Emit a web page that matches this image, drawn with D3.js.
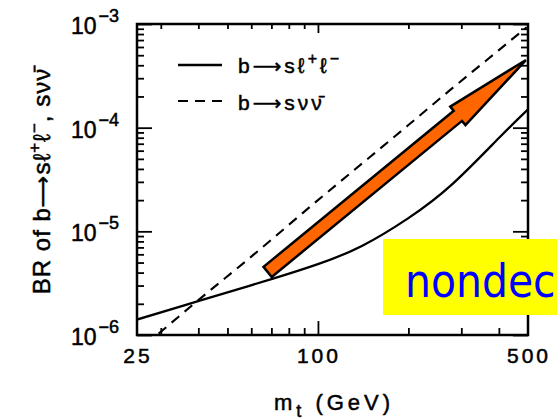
<!DOCTYPE html>
<html><head><meta charset="utf-8">
<script src="https://cdn.jsdelivr.net/npm/d3@7"></script>
<style>
  body { margin: 0; background: #fff; }
  svg { display: block; }
  .ink { fill: #000; stroke: #000; stroke-width: 0.5; }
</style>
</head><body>
<svg id="chart" width="557" height="420"></svg>
<script>
// Axis tick labels
const xTickValues = [25, 100, 500];
const xTickLabels = ["25", "100", "500"];
const yTickValues = [1e-6, 1e-5, 1e-4, 1e-3];
const yTickExponents = ["−6", "−5", "−4", "−3"];

// b → s l+ l−  (solid)
const mtLL = [25, 35, 50, 70, 100, 140, 200, 280, 400, 500];
const brLL = [1.41e-6, 1.89e-6, 2.58e-6, 3.46e-6, 4.83e-6, 7.22e-6, 1.34e-5, 2.85e-5, 7.94e-5, 1.50e-4];

// b → s nu nubar  (dashed)
const mtNuNu = [29.5, 40, 60, 100, 150, 200, 275, 400, 495];
const brNuNu = [1.03e-6, 2.17e-6, 5.7e-6, 2.0e-5, 5.3e-5, 1.06e-4, 2.3e-4, 5.6e-4, 9.3e-4];

// Trend arrow, from/to in (m_t, BR)
const arrowFrom = [68, 4.06e-6];
const arrowTo = [492, 4.49e-4];

const svg = d3.select("#chart");
const x0 = 137, x1 = 528, y0 = 24, y1 = 335;

const x = d3.scaleLog().domain([25, 500]).range([x0, x1]);
const y = d3.scaleLog().domain([1e-6, 1e-3]).range([y1, y0]);

const FONT = "'Liberation Sans', Arial, sans-serif";
const ARROW_FONT = "'DejaVu Sans', sans-serif";

// Clip for the curves
svg.append("clipPath").attr("id", "plot-clip")
  .append("rect").attr("x", x0).attr("y", y0).attr("width", x1 - x0).attr("height", y1 - y0);

// Minor tick positions
const yMinor = [];
for (let d = -6; d < -3; d++) for (let k = 2; k <= 9; k++) yMinor.push(k * Math.pow(10, d));
const xMinor = [30, 40, 50, 60, 70, 80, 90, 200, 300, 400];

function strip(g) {
  g.select(".domain").remove();
  g.selectAll("text").remove();
  g.selectAll("line").attr("stroke", "#000").attr("stroke-width", 1.8);
}

// Left axis ticks (inward)
svg.append("g").attr("transform", `translate(${x0},0)`)
  .call(d3.axisLeft(y).tickValues(yMinor).tickSize(-7).tickFormat("")).call(strip);
svg.append("g").attr("transform", `translate(${x0},0)`)
  .call(d3.axisLeft(y).tickValues(yTickValues).tickSize(-15).tickFormat("")).call(strip);
// Right axis ticks (inward)
svg.append("g").attr("transform", `translate(${x1},0)`)
  .call(d3.axisRight(y).tickValues(yMinor).tickSize(-7).tickFormat("")).call(strip);
svg.append("g").attr("transform", `translate(${x1},0)`)
  .call(d3.axisRight(y).tickValues(yTickValues).tickSize(-15).tickFormat("")).call(strip);
// Bottom axis ticks (inward)
svg.append("g").attr("transform", `translate(0,${y1})`)
  .call(d3.axisBottom(x).tickValues(xMinor).tickSize(-7).tickFormat("")).call(strip);
svg.append("g").attr("transform", `translate(0,${y1})`)
  .call(d3.axisBottom(x).tickValues([100]).tickSize(-14).tickFormat("")).call(strip);
// Top axis ticks (inward)
svg.append("g").attr("transform", `translate(0,${y0})`)
  .call(d3.axisTop(x).tickValues(xMinor).tickSize(-5).tickFormat("")).call(strip);
svg.append("g").attr("transform", `translate(0,${y0})`)
  .call(d3.axisTop(x).tickValues([100]).tickSize(-9).tickFormat("")).call(strip);

// Frame
svg.append("rect").attr("x", x0).attr("y", y0).attr("width", x1 - x0).attr("height", y1 - y0)
  .attr("fill", "none").attr("stroke", "#000").attr("stroke-width", 2.5);

// Curves
const smooth = d3.line().x(d => x(d[0])).y(d => y(d[1])).curve(d3.curveNatural);
const straight = d3.line().x(d => x(d[0])).y(d => y(d[1])).curve(d3.curveMonotoneX);
const plot = svg.append("g").attr("clip-path", "url(#plot-clip)");
plot.append("path").datum(mtLL.map((m, i) => [m, brLL[i]]))
  .attr("d", smooth).attr("fill", "none").attr("stroke", "#000").attr("stroke-width", 2.3);
plot.append("path").datum(mtNuNu.map((m, i) => [m, brNuNu[i]]))
  .attr("d", straight).attr("fill", "none").attr("stroke", "#000").attr("stroke-width", 2.1)
  .attr("stroke-dasharray", "10,7");

// Y tick labels: 10 with superscript exponent
const yLab = svg.append("g").attr("font-family", FONT).attr("class", "ink");
yTickValues.forEach((v, i) => {
  const t = yLab.append("text").attr("x", 71).attr("y", y(v) + 10).attr("font-size", 23);
  t.append("tspan").text("10");
  t.append("tspan").attr("dy", -12).attr("dx", 2).attr("font-size", 18).text(yTickExponents[i]);
});

// X tick labels
svg.append("g").attr("font-family", FONT).attr("font-size", 21).attr("letter-spacing", 3)
  .attr("class", "ink")
  .selectAll("text").data(xTickValues).join("text")
  .attr("x", d => x(d) + 1).attr("y", 363).attr("text-anchor", "middle")
  .text((d, i) => xTickLabels[i]);

// X axis title
const xt = svg.append("text").attr("x", 334).attr("y", 410).attr("text-anchor", "middle")
  .attr("font-family", FONT).attr("font-size", 22).attr("letter-spacing", 4).attr("class", "ink");
xt.append("tspan").text("m");
xt.append("tspan").attr("dy", 7).attr("font-size", 18).text("t");
xt.append("tspan").attr("dy", -7).text(" (GeV)");

// Y axis title
const yt = svg.append("text").attr("transform", "translate(50,181) rotate(-90)")
  .attr("text-anchor", "middle").attr("font-family", FONT).attr("font-size", 24)
  .attr("letter-spacing", 1).attr("class", "ink");
yt.append("tspan").text("BR of b");
yt.append("tspan").attr("font-family", ARROW_FONT).attr("font-size", 22).text("⟶");
yt.append("tspan").text("sℓ");
yt.append("tspan").attr("dy", -10).attr("font-size", 17).text("+");
yt.append("tspan").attr("dy", 10).text("ℓ");
yt.append("tspan").attr("dy", -10).attr("font-size", 17).text("−");
yt.append("tspan").attr("dy", 10).text(", sνν̄");

// Legend
const legend = svg.append("g");
legend.append("line").attr("x1", 178).attr("x2", 222).attr("y1", 65).attr("y2", 65)
  .attr("stroke", "#000").attr("stroke-width", 2.3);
legend.append("line").attr("x1", 178).attr("x2", 222).attr("y1", 101).attr("y2", 101)
  .attr("stroke", "#000").attr("stroke-width", 2.1).attr("stroke-dasharray", "10,7");
const l1 = legend.append("text").attr("x", 238).attr("y", 73)
  .attr("font-family", FONT).attr("font-size", 21).attr("letter-spacing", 3).attr("class", "ink");
l1.append("tspan").text("b");
l1.append("tspan").attr("font-family", ARROW_FONT).attr("font-size", 20).text("⟶");
l1.append("tspan").text("sℓ");
l1.append("tspan").attr("dy", -9).attr("font-size", 16).text("+");
l1.append("tspan").attr("dy", 9).text("ℓ");
l1.append("tspan").attr("dy", -9).attr("font-size", 16).text("−");
const l2 = legend.append("text").attr("x", 238).attr("y", 110)
  .attr("font-family", FONT).attr("font-size", 21).attr("letter-spacing", 3).attr("class", "ink");
l2.append("tspan").text("b");
l2.append("tspan").attr("font-family", ARROW_FONT).attr("font-size", 20).text("⟶");
l2.append("tspan").text("sνν̄");

// Orange arrow built from its endpoints in data space
(function drawArrow() {
  const ax = x(arrowFrom[0]), ay = y(arrowFrom[1]);
  const bx = x(arrowTo[0]), by = y(arrowTo[1]);
  const len = Math.hypot(bx - ax, by - ay);
  const ux = (bx - ax) / len, uy = (by - ay) / len;
  const nx = -uy, ny = ux;
  const shaft = 6.5, head = 12, headLen = 88;
  const P = (s, w) => [ax + ux * s + nx * w, ay + uy * s + ny * w];
  const pts = [P(0, -shaft), P(len - headLen, -shaft), P(len - headLen, -head), P(len, 0),
               P(len - headLen, head), P(len - headLen, shaft), P(0, shaft)];
  svg.append("polygon").attr("points", pts.map(p => p.join(",")).join(" "))
    .attr("fill", "#ff6600").attr("stroke", "#000").attr("stroke-width", 2.5)
    .attr("stroke-linejoin", "miter");
})();

// Highlight box
svg.append("rect").attr("x", 383).attr("y", 239).attr("width", 180).attr("height", 76)
  .attr("fill", "#ffff00");
svg.append("text").attr("x", 405).attr("y", 297)
  .attr("font-family", "'DejaVu Sans Condensed', 'DejaVu Sans', sans-serif")
  .attr("font-size", 45.5).attr("fill", "#0000ff").text("nondec");
</script>
</body></html>
